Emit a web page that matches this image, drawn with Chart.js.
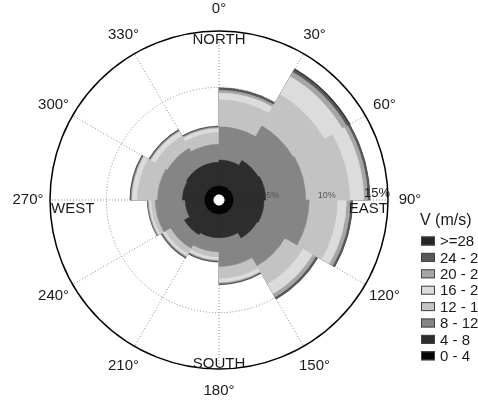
<!DOCTYPE html>
<html>
<head>
<meta charset="utf-8">
<script src="https://cdn.jsdelivr.net/npm/chart.js@4.4.1/dist/chart.umd.min.js"></script>
<style>
html, body { margin: 0; padding: 0; background: #fff; overflow: hidden; }
#wrap { position: relative; width: 478px; height: 404px; }
</style>
</head>
<body>
<div id="wrap"><canvas id="rose"></canvas></div>
<script>
// direction sectors (30 degrees each, clockwise from north)
const directions = ["0°", "30°", "60°", "90°", "120°", "150°", "180°", "210°", "240°", "270°", "300°", "330°"];
const cardinals = ["NORTH", "EAST", "SOUTH", "WEST"];
const radialTicks = [5, 10, 15];

// frequency (%) of each speed class per sector
const speedBands = ["0 - 4", "4 - 8", "8 - 12", "12 - 16", "16 - 20", "20 - 24", "24 - 28", ">=28"];
const calm   = [0.45, 0.45, 0.45, 0.45, 0.45, 0.45, 0.45, 0.45, 0.45, 0.45, 0.45, 0.45];
const v0_4   = [0.8, 0.8, 0.8, 0.8, 0.8, 0.8, 0.8, 0.8, 0.8, 0.8, 0.8, 0.8];
const v4_8   = [2.3, 2.8, 2.9, 2.75, 2.65, 2.1, 2.1, 2.3, 1.75, 2.0, 2.1, 2.1];
const v8_12  = [2.95, 3.55, 3.55, 4.0, 2.85, 2.55, 1.25, 1.4, 2.65, 2.2, 1.95, 1.6];
const v12_16 = [2.4, 3.2, 3.9, 2.5, 1.85, 1.05, 0.45, 0.55, 0.35, 1.8, 1.25, 1.05];
const v16_20 = [0.6, 1.85, 1.25, 0.8, 1.0, 0.35, 0.25, 0.25, 0.2, 0.45, 0.45, 0.35];
const v20_24 = [0.25, 0.45, 0.35, 0.35, 0.35, 0.1, 0.1, 0.1, 0.1, 0.1, 0.1, 0.1];
const v24_28 = [0.2, 0.25, 0.2, 0.2, 0.2, 0.1, 0.1, 0.1, 0.05, 0.1, 0.1, 0.1];
const v28    = [0, 0.1, 0, 0, 0, 0, 0, 0, 0, 0, 0, 0];

const bandColors = ["#050505", "#2d2d2d", "#858585", "#c3c3c3", "#dcdcdc", "#a6a6a6", "#595959", "#262626"];

const FONT = '"Liberation Sans", Arial, sans-serif';
Chart.defaults.font.family = FONT;

// polarArea can't stack, so each band is an area out to the running total;
// dataset 0 is drawn last (on top) so the inner bands stay visible
const bands = [v0_4, v4_8, v8_12, v12_16, v16_20, v20_24, v24_28, v28];
let running = calm.slice();
const datasets = [{ label: 'calm', data: calm, backgroundColor: '#fff', borderColor: '#fff', borderWidth: 1 }];
bands.forEach((vals, b) => {
    running = running.map((r, i) => r + vals[i]);
    datasets.push({
        label: speedBands[b],
        data: running.slice(),
        backgroundColor: bandColors[b],
        borderColor: bandColors[b],
        borderWidth: 0.5
    });
});

// dotted spokes, but leave the calm hole in the middle clean
let spokeDash = [0, 7];
for (let k = 0; k < 60; k++) spokeDash.push(1, 2);

const roseText = {
    id: 'roseText',
    afterDraw(chart) {
        const ctx = chart.ctx;
        const r = chart.scales.r;
        const cx = r.xCenter, cy = r.yCenter, R = r.drawingArea;
        ctx.save();
        ctx.fillStyle = '#1a1a1a';

        // degree labels round the rim
        ctx.font = '15px ' + FONT;
        ctx.textAlign = 'center';
        ctx.textBaseline = 'middle';
        directions.forEach((lab, i) => {
            const p = r.getPointPosition(i, R + 22);
            ctx.fillText(lab, p.x, p.y);
        });

        // compass names just inside the rim
        ctx.textBaseline = 'top';
        ctx.fillText(cardinals[0], cx, cy - R + 1);
        ctx.textBaseline = 'alphabetic';
        ctx.fillText(cardinals[2], cx, cy + R - 1);
        ctx.textAlign = 'right';
        ctx.fillText(cardinals[1], cx + R, cy + 13);
        ctx.textAlign = 'left';
        ctx.fillText(cardinals[3], cx - R + 1, cy + 13);

        // percentage rings, labelled along the east spoke
        ctx.textAlign = 'right';
        radialTicks.forEach(t => {
            const d = r.getDistanceFromCenterForValue(t);
            if (t === 15) {
                ctx.font = '13px ' + FONT;
                ctx.fillStyle = '#1a1a1a';
                ctx.fillText(t + '%', cx + d + 2, cy - 3);
            } else {
                ctx.font = '9px ' + FONT;
                ctx.fillStyle = '#555';
                ctx.fillText(t + '%', cx + d + 4, cy - 2);
            }
        });

        // legend
        ctx.fillStyle = '#1a1a1a';
        ctx.textAlign = 'left';
        ctx.font = '16px ' + FONT;
        ctx.fillText('V (m/s)', 420, 225);
        ctx.font = '15px ' + FONT;
        ctx.textBaseline = 'middle';
        for (let k = 0; k < speedBands.length; k++) {
            const b = speedBands.length - 1 - k;
            const y = 241 + k * 16.4;
            ctx.fillStyle = bandColors[b];
            ctx.fillRect(421, y - 4.5, 14, 9);
            ctx.strokeStyle = '#444';
            ctx.lineWidth = 1;
            ctx.strokeRect(421.5, y - 4, 13, 8);
            ctx.fillStyle = '#1a1a1a';
            ctx.fillText(speedBands[b], 440, y + 1);
        }
        ctx.restore();
    }
};

new Chart(document.getElementById('rose'), {
    type: 'polarArea',
    data: {
        labels: directions,
        datasets: datasets
    },
    options: {
        responsive: true,
        maintainAspectRatio: false,
        animation: false,
        layout: { padding: { left: 50, top: 31, right: 90, bottom: 35 } },
        plugins: {
            legend: { display: false },
            tooltip: { enabled: false }
        },
        scales: {
            r: {
                min: 0,
                max: 15,
                startAngle: 0,
                z: 1,
                ticks: { display: false, stepSize: 5 },
                grid: {
                    circular: true,
                    color: c => (c.tick && c.tick.value === 15) ? '#000' : '#8a8a8a',
                    lineWidth: c => (c.tick && c.tick.value === 15) ? 1.5 : 1
                },
                border: { dash: c => (c.tick && c.tick.value === 15) ? [] : [1, 2] },
                angleLines: { display: true, color: '#8a8a8a', lineWidth: 1, borderDash: spokeDash },
                pointLabels: { display: false }
            }
        }
    },
    plugins: [roseText]
});
</script>
</body>
</html>
